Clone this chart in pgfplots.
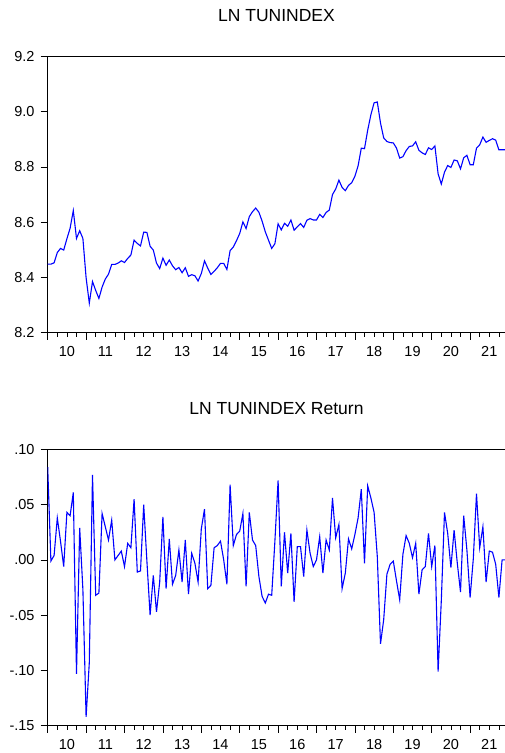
\documentclass[border=0pt]{standalone}
\usepackage{fontspec}
\setmainfont{Liberation Sans}
\usepackage{pgfplots}
\pgfplotsset{compat=1.18}
\usepackage{pgfplotstable}

\pgfplotstableread{
i lvl ret
0 8.448 0.084
1 8.448 -0.001
2 8.453 0.004
3 8.490 0.038
4 8.505 0.017
5 8.499 -0.006
6 8.540 0.043
7 8.578 0.040
8 8.642 0.061
9 8.541 -0.103
10 8.569 0.029
11 8.541 -0.027
12 8.399 -0.142
13 8.307 -0.093
14 8.385 0.077
15 8.353 -0.032
16 8.324 -0.030
17 8.365 0.042
18 8.394 0.030
19 8.412 0.018
20 8.447 0.036
21 8.447 0.000
22 8.452 0.004
23 8.460 0.008
24 8.454 -0.006
25 8.469 0.015
26 8.481 0.011
27 8.535 0.055
28 8.523 -0.011
29 8.514 -0.010
30 8.564 0.050
31 8.563 -0.001
32 8.513 -0.050
33 8.499 -0.014
34 8.452 -0.047
35 8.432 -0.020
36 8.470 0.039
37 8.444 -0.026
38 8.463 0.019
39 8.442 -0.022
40 8.428 -0.014
41 8.436 0.009
42 8.417 -0.020
43 8.435 0.018
44 8.404 -0.031
45 8.410 0.006
46 8.406 -0.003
47 8.387 -0.020
48 8.414 0.028
49 8.460 0.046
50 8.434 -0.026
51 8.411 -0.023
52 8.422 0.011
53 8.435 0.013
54 8.451 0.017
55 8.451 0.000
56 8.429 -0.022
57 8.497 0.068
58 8.510 0.013
59 8.533 0.023
60 8.559 0.026
61 8.601 0.042
62 8.577 -0.024
63 8.620 0.043
64 8.638 0.018
65 8.651 0.013
66 8.636 -0.015
67 8.604 -0.033
68 8.565 -0.039
69 8.535 -0.031
70 8.505 -0.032
71 8.522 0.017
72 8.594 0.072
73 8.572 -0.024
74 8.596 0.025
75 8.585 -0.012
76 8.608 0.024
77 8.571 -0.038
78 8.583 0.012
79 8.595 0.012
80 8.581 -0.015
81 8.607 0.027
82 8.613 0.006
83 8.608 -0.006
84 8.608 0.000
85 8.628 0.021
86 8.617 -0.012
87 8.635 0.018
88 8.644 0.009
89 8.700 0.056
90 8.720 0.020
91 8.752 0.032
92 8.726 -0.026
93 8.714 -0.012
94 8.733 0.019
95 8.743 0.010
96 8.766 0.023
97 8.804 0.038
98 8.868 0.064
99 8.866 -0.003
100 8.933 0.067
101 8.989 0.056
102 9.032 0.043
103 9.035 0.003
104 8.959 -0.076
105 8.905 -0.054
106 8.892 -0.013
107 8.888 -0.004
108 8.887 -0.001
109 8.868 -0.019
110 8.832 -0.036
111 8.837 0.005
112 8.859 0.022
113 8.874 0.015
114 8.876 0.002
115 8.891 0.015
116 8.860 -0.031
117 8.851 -0.009
118 8.845 -0.006
119 8.869 0.024
120 8.863 -0.006
121 8.876 0.013
122 8.775 -0.101
123 8.738 -0.037
124 8.781 0.043
125 8.805 0.024
126 8.798 -0.007
127 8.825 0.027
128 8.822 -0.003
129 8.793 -0.029
130 8.833 0.040
131 8.842 0.009
132 8.808 -0.034
133 8.808 0.001
134 8.868 0.060
135 8.880 0.011
136 8.908 0.030
137 8.889 -0.020
138 8.896 0.008
139 8.902 0.007
140 8.897 -0.004
141 8.862 -0.034
142 8.862 0.000
143 8.862 0.000
}\data

\pgfplotsset{
  evstyle/.style={
    scale only axis, width=457.6pt, height=276.3pt,
    anchor=south west,
    xmin=0, xmax=143,
    axis line style={line width=0.9pt},
    tick align=outside, xtick pos=bottom, ytick pos=left,
    xtick={0,12,24,36,48,60,72,84,96,108,120,132},
    xticklabels={},
    minor xtick={3,6,...,141},
    extra x ticks={6,18,30,42,54,66,78,90,102,114,126,138},
    extra x tick labels={10,11,12,13,14,15,16,17,18,19,20,21},
    extra x tick style={major tick length=0pt},
    major tick length=7pt, minor tick length=4pt,
    tick style={black, line width=0.8pt},
    font=\fontsize{14.5}{17}\selectfont,
    xticklabel style={anchor=base, inner sep=0pt, yshift=-24pt},
    yticklabel style={anchor=east, inner sep=0pt, xshift=-6pt},
    title style={font=\fontsize{17.5}{20}\selectfont, anchor=base, at={(0.5,1)}, yshift=29pt},
    clip=true,
  }
}

\begin{document}
\begin{tikzpicture}
\begin{axis}[evstyle, at={(47.7pt,420.3pt)},
  title={LN TUNINDEX},
  ymin=8.2, ymax=9.2,
  ytick={8.2,8.4,8.6,8.8,9.0,9.2},
  yticklabels={8.2,8.4,8.6,8.8,9.0,9.2}]
\addplot[color={rgb,255:red,0;green,0;blue,255}, line width=1.1pt, no marks] table[x=i, y=lvl] {\data};
\end{axis}
\begin{axis}[evstyle, at={(47.7pt,27.3pt)},
  title={LN TUNINDEX Return},
  ymin=-0.15, ymax=0.10,
  ytick={-0.15,-0.10,-0.05,0,0.05,0.10},
  yticklabels={-.15,-.10,-.05,.00,.05,.10}]
\addplot[color={rgb,255:red,0;green,0;blue,255}, line width=1.1pt, no marks] table[x=i, y=ret] {\data};
\end{axis}
\pgfresetboundingbox
\path[use as bounding box] (0,0) rectangle (504pt,753pt);
\end{tikzpicture}
\end{document}
